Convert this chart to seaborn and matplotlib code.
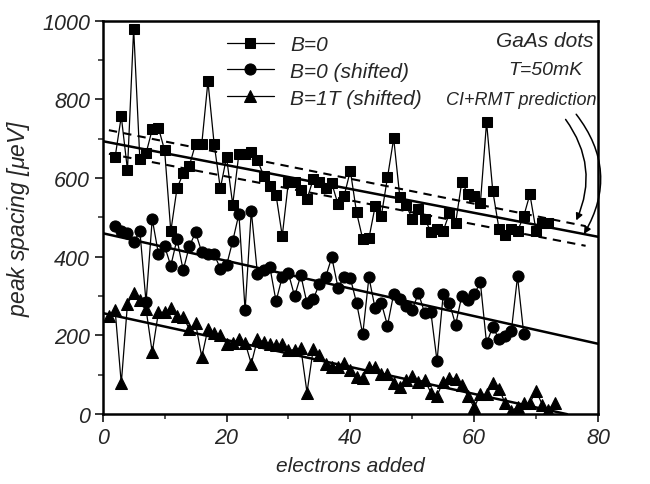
import numpy as np
import matplotlib
matplotlib.use("Agg")
import matplotlib.pyplot as plt
import seaborn as sns

# ------------------------------------------------------------------
# data (peak spacing in ueV vs electrons added)
# ------------------------------------------------------------------
b0_x = np.arange(2, 73)
b0_y = [653, 757, 621, 980, 648, 663, 724, 728, 671, 465,
        574, 612, 632, 687, 687, 846, 687, 574, 653, 533,
        662, 662, 667, 646, 606, 579, 557, 453, 591, 591,
        570, 547, 597, 589, 576, 587, 534, 555, 619, 513,
        445, 447, 528, 504, 602, 701, 551, 531, 497, 521,
        497, 464, 472, 466, 511, 486, 591, 559, 555, 536,
        742, 568, 472, 455, 470, 466, 503, 559, 466, 486,
        486]

b0s_x = np.arange(2, 69)
b0s_y = [479, 466, 460, 437, 466, 285, 496, 408, 427, 377,
         445, 366, 427, 462, 412, 407, 407, 370, 378, 440,
         509, 264, 517, 356, 366, 374, 287, 349, 358, 300,
         353, 282, 292, 331, 348, 399, 322, 349, 346, 283,
         203, 348, 269, 283, 225, 306, 292, 274, 265, 308,
         257, 260, 135, 305, 283, 227, 301, 291, 305, 335,
         180, 222, 191, 199, 211, 350, 205]

b1_x = np.arange(1, 74)
b1_y = [250, 266, 78, 280, 309, 290, 267, 157, 259, 259,
        269, 250, 246, 217, 231, 145, 217, 207, 200, 179,
        182, 190, 182, 128, 191, 183, 179, 175, 179, 162,
        164, 168, 55, 165, 151, 128, 121, 119, 131, 113,
        94, 92, 121, 119, 103, 103, 79, 70, 87, 96,
        83, 87, 55, 47, 83, 92, 90, 74, 46, 17,
        51, 50, 78, 65, 28, 9, 17, 28, 28, 60,
        24, 11, 29]

# linear trends (CI+RMT prediction), endpoints
fit_x = [0, 80]
fit_b0 = [694, 451]
band_x = [1, 78]
band_hi = [722, 478]
band_lo = [662, 428]
fit_b0s = [460, 179]
fit1_x = [0, 75]
fit_b1 = [257, 0]

legend_labels = ["B=0", "B=0 (shifted)", "B=1T (shifted)"]

# ------------------------------------------------------------------
sns.set_style("ticks")
plt.rcParams["font.family"] = ["Liberation Sans", "DejaVu Sans"]
plt.rcParams["font.style"] = "italic"
plt.rcParams["mathtext.fontset"] = "custom"
plt.rcParams["mathtext.it"] = "Liberation Sans:italic"

fig = plt.figure(figsize=(6.5, 4.85), dpi=100)
ax = fig.add_axes([0.158, 0.144, 0.762, 0.811])

series = [(b0_x, b0_y, "s", 7.8), (b0s_x, b0s_y, "o", 8.0), (b1_x, b1_y, "^", 8.7)]
for (xs, ys, mk, ms), lab in zip(series, legend_labels):
    sns.lineplot(x=xs, y=ys, ax=ax, color="black", lw=0.9, marker=mk,
                 markersize=ms, markeredgecolor="black", label=lab)

# fit lines
sns.lineplot(x=fit_x, y=fit_b0, ax=ax, color="black", lw=1.8)
sns.lineplot(x=band_x, y=band_hi, ax=ax, color="black", lw=1.5, linestyle=(0, (4, 3)))
sns.lineplot(x=band_x, y=band_lo, ax=ax, color="black", lw=1.5, linestyle=(0, (4, 3)))
sns.lineplot(x=fit_x, y=fit_b0s, ax=ax, color="black", lw=1.8)
sns.lineplot(x=fit1_x, y=fit_b1, ax=ax, color="black", lw=1.8)

ax.set_xlim(0, 80)
ax.set_ylim(0, 1000)
ax.set_xticks([0, 20, 40, 60, 80])
ax.set_yticks([0, 200, 400, 600, 800, 1000])
ax.set_xticks(np.arange(10, 80, 20), minor=True)
ax.set_yticks(np.arange(100, 1000, 200), minor=True)
ax.tick_params(axis="both", which="major", direction="out", length=6, width=1.3,
               labelsize=15.5, pad=3)
ax.tick_params(axis="both", which="minor", direction="out", length=3.5, width=1.1)
for sp in ax.spines.values():
    sp.set_visible(True)
    sp.set_linewidth(1.8)
    sp.set_color("black")

ax.set_xlabel("electrons added", fontsize=15, labelpad=6)
ax.set_ylabel(r"peak spacing [$\mu$eV]", fontsize=16.5, labelpad=7)

# legend
handles, labels = ax.get_legend_handles_labels()
leg = ax.legend(handles[:3], labels[:3], loc="upper left", bbox_to_anchor=(0.213, 1.012),
                frameon=False, fontsize=15, handlelength=2.25, handletextpad=0.8,
                labelspacing=0.38)

# annotation
ax.text(0.893, 0.95, "GaAs dots", transform=ax.transAxes, ha="center", va="center", fontsize=15)
ax.text(0.893, 0.875, "T=50mK", transform=ax.transAxes, ha="center", va="center", fontsize=14)
ax.text(0.997, 0.80, "CI+RMT prediction", transform=ax.transAxes, ha="right", va="center", fontsize=13)
ax.annotate("", xy=(76.3, 486), xytext=(74.5, 755),
            arrowprops=dict(arrowstyle="-|>", color="black", lw=1.1,
                            connectionstyle="arc3,rad=-0.3", mutation_scale=10))
ax.annotate("", xy=(77.5, 452), xytext=(76.2, 768),
            arrowprops=dict(arrowstyle="-|>", color="black", lw=1.1,
                            connectionstyle="arc3,rad=-0.35", mutation_scale=10))

fig.savefig("out.png", dpi=100)
